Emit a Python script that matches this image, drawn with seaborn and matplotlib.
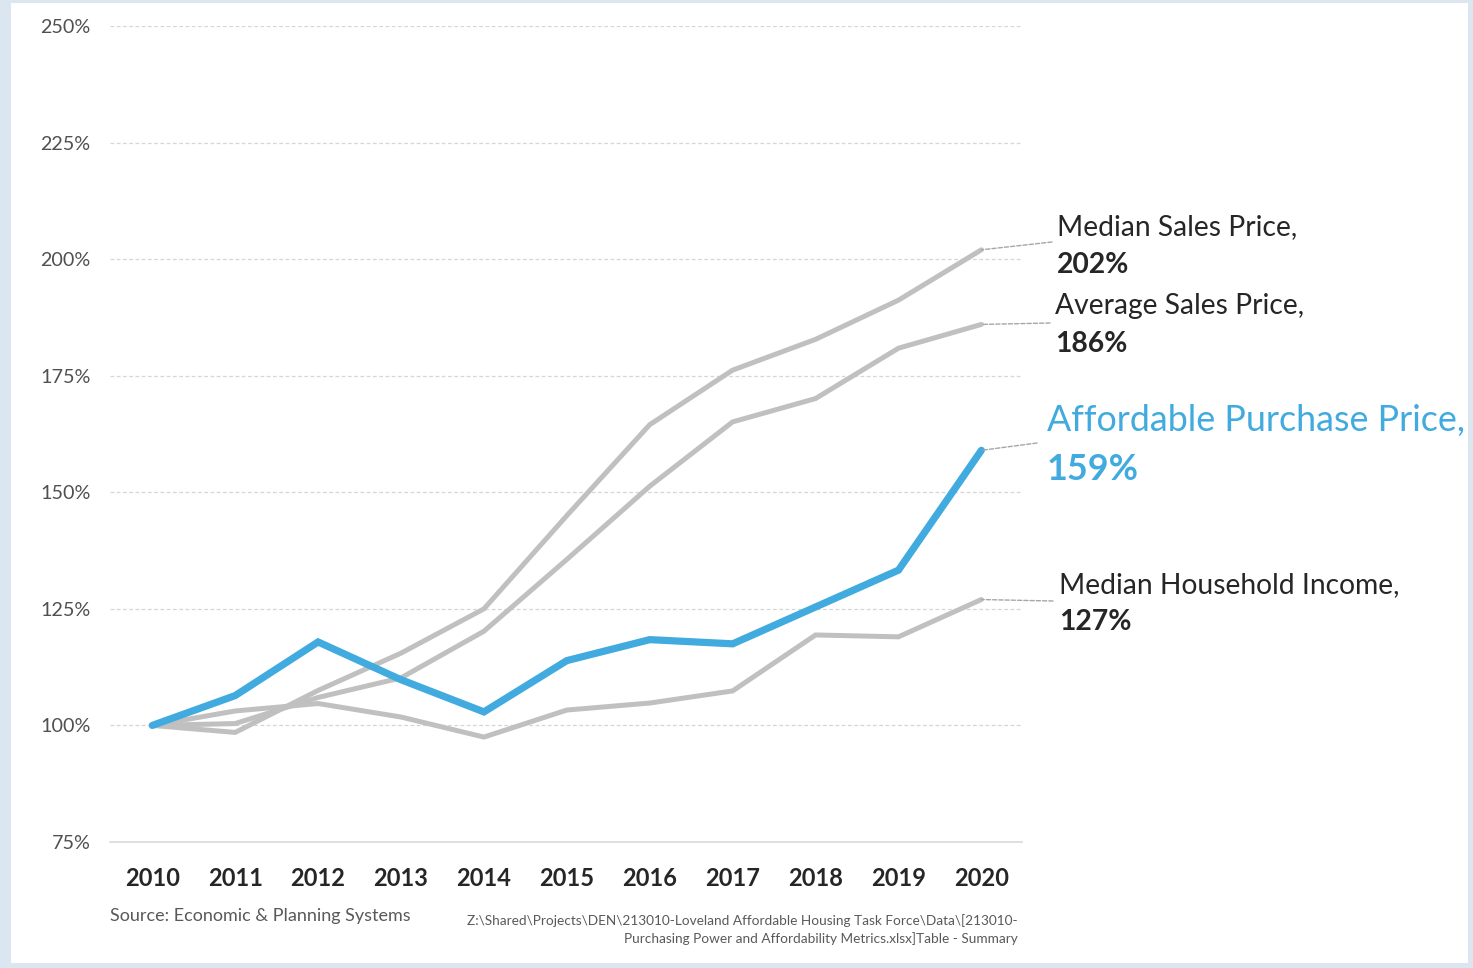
import matplotlib
matplotlib.use("Agg")
import matplotlib.pyplot as plt
from matplotlib.patches import Rectangle
from matplotlib.ticker import FuncFormatter
import numpy as np
import pandas as pd
import seaborn as sns

# Index values (2010 = 100%)
years = [2010, 2011, 2012, 2013, 2014, 2015, 2016, 2017, 2018, 2019, 2020]
median_sales_price = [100, 98.5, 107.5, 115.5, 125.0, 145.0, 164.5, 176.2, 182.8, 191.2, 202.0]
average_sales_price = [100, 100.4, 106.0, 110.2, 120.2, 135.6, 151.3, 165.1, 170.1, 180.9, 186.0]
median_household_income = [100, 103.1, 104.7, 101.8, 97.5, 103.3, 104.8, 107.4, 119.4, 119.0, 127.0]
affordable_purchase_price = [100, 106.4, 117.9, 109.8, 102.9, 113.9, 118.4, 117.5, 125.4, 133.3, 159.0]

series_names = ["Median Sales Price", "Average Sales Price",
                "Median Household Income", "Affordable Purchase Price"]
y_ticks = [75, 100, 125, 150, 175, 200, 225, 250]

df = pd.DataFrame({
    "year": years * 4,
    "value": (median_sales_price + average_sales_price
              + median_household_income + affordable_purchase_price),
    "series": sum([[n] * len(years) for n in series_names], []),
})

sns.set_theme(style="white")
plt.rcParams["font.family"] = ["Lato", "DejaVu Sans"]

GRAY = "#c0c0c0"
BLUE = "#41abdf"
DARK = "#262626"

W, H = 1473, 968
fig = plt.figure(figsize=(W / 100, H / 100), dpi=100)
fig.patch.set_facecolor("#dbe6f1")
# white slide panel
fig.patches.append(Rectangle((11 / W, 1 - 963 / H), (1468 - 11) / W, (963 - 3) / H,
                             transform=fig.transFigure, facecolor="white",
                             edgecolor="none", zorder=-10))

ax = fig.add_axes([110 / W, 1 - 842 / H, (1022 - 110) / W, (842 - 26) / H])
ax.set_zorder(2)
ax.set_facecolor("none")

styles = {
    "Median Sales Price": (GRAY, 3.6, 2),
    "Average Sales Price": (GRAY, 3.6, 2),
    "Median Household Income": (GRAY, 3.6, 2),
    "Affordable Purchase Price": (BLUE, 5.2, 3),
}
for name in series_names:
    color, lw, z = styles[name]
    sns.lineplot(data=df[df["series"] == name], x="year", y="value",
                 color=color, linewidth=lw, ax=ax, zorder=z,
                 solid_joinstyle="miter", solid_capstyle="round")

ax.set_xlim(2009.49, 2020.49)
ax.set_ylim(75, 250)
ax.set_xticks(years)
ax.set_yticks(y_ticks)
ax.yaxis.set_major_formatter(FuncFormatter(lambda v, _: f"{v:.0f}%"))
ax.set_xlabel("")
ax.set_ylabel("")

for v in y_ticks[1:]:
    ax.axhline(v, color="#d6d6d6", linewidth=0.9, linestyle=(0, (3, 2)), zorder=1)

for s in ["top", "right", "left"]:
    ax.spines[s].set_visible(False)
ax.spines["bottom"].set_color("#d9d9d9")
ax.spines["bottom"].set_linewidth(1.2)

ax.tick_params(axis="y", length=0, pad=14, labelsize=14.2, labelcolor="#505050")
ax.tick_params(axis="x", length=0, pad=18, labelsize=17, labelcolor=DARK)
for t in ax.get_xticklabels():
    t.set_fontweight("bold")

ax.grid(False)

# End-of-line labels with dashed leaders
labels = [
    ("Median Sales Price", median_sales_price[-1], (1052, 242), 1057, 227, 265, DARK, 20.3),
    ("Average Sales Price", average_sales_price[-1], (1050, 323), 1055, 306, 344, DARK, 20.3),
    ("Affordable Purchase Price", affordable_purchase_price[-1], (1037, 443), 1047, 421, 469, BLUE, 25.8),
    ("Median Household Income", median_household_income[-1], (1053, 601), 1059, 585, 622, DARK, 20.3),
]

def fig_xy(px, py):
    return px / W, 1 - py / H

for name, val, (lx, ly), tx, ty1, ty2, col, fs in labels:
    ax.annotate("", xy=(years[-1], val), xycoords="data",
                xytext=fig_xy(lx, ly), textcoords="figure fraction",
                arrowprops=dict(arrowstyle="-", color="#a6a6a6", linewidth=1.0,
                                linestyle=(0, (3, 1.5)), shrinkA=0, shrinkB=0),
                annotation_clip=False)
    fig.text(*fig_xy(tx, ty1), f"{name},", color=col, fontsize=fs,
             ha="left", va="center")
    fig.text(*fig_xy(tx, ty2), f"{val:.0f}%", color=col, fontsize=fs,
             fontweight="bold", ha="left", va="center")

fig.text(*fig_xy(110, 916), "Source: Economic & Planning Systems",
         color="#595959", fontsize=13, ha="left", va="center")
fig.text(*fig_xy(1018, 929.5),
         "Z:\\Shared\\Projects\\DEN\\213010-Loveland Affordable Housing Task Force\\Data\\[213010-\n"
         "Purchasing Power and Affordability Metrics.xlsx]Table - Summary",
         color="#595959", fontsize=9.8, ha="right", va="center", linespacing=1.5,
         multialignment="right")

fig.savefig("out.png", dpi=100, facecolor=fig.get_facecolor())
